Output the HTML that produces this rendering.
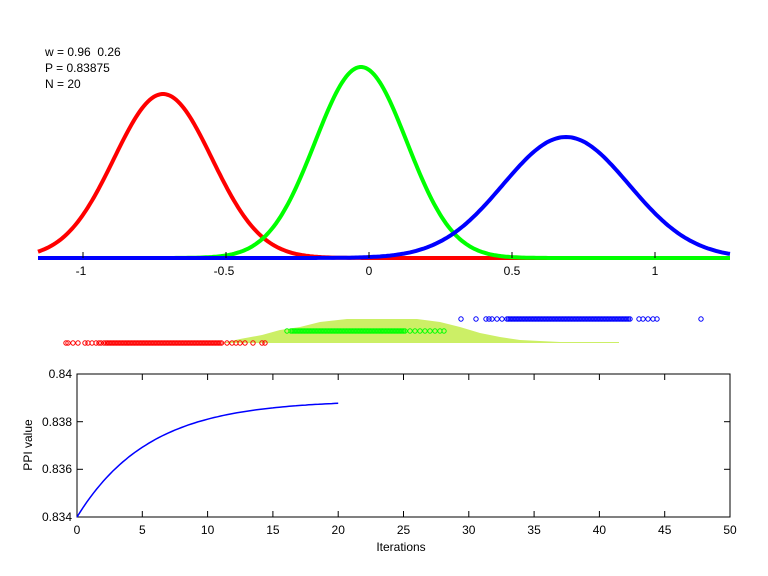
<!DOCTYPE html>
<html><head><meta charset="utf-8"><style>
html,body{margin:0;padding:0;background:#fff}
svg{display:block;font-family:"Liberation Sans",sans-serif}
</style></head><body>
<svg id="s" width="768" height="576" viewBox="0 0 768 576" xmlns="http://www.w3.org/2000/svg">
<rect width="768" height="576" fill="#fff"/>
<g font-size="12" fill="#000">
<text x="45" y="56" xml:space="preserve" style="white-space:pre">w = 0.96  0.26</text>
<text x="45" y="72">P = 0.83875</text>
<text x="45" y="88">N = 20</text>
</g>
<g id="top"></g>
<g stroke="#000" stroke-width="1">
<line x1="83" y1="258" x2="83" y2="252"/><line x1="226" y1="258" x2="226" y2="252"/><line x1="369" y1="258" x2="369" y2="252"/><line x1="512" y1="258" x2="512" y2="252"/><line x1="655" y1="258" x2="655" y2="252"/>
</g>
<g font-size="12" text-anchor="middle">
<text x="81" y="275">-1</text><text x="224" y="275">-0.5</text><text x="369" y="275">0</text><text x="512" y="275">0.5</text><text x="655" y="275">1</text>
</g>
<polygon fill="#ccef66" points="222,343 240,339 262,335 280,330 300,327 320,322 347,319 417,319 440,322 460,327 480,333 500,337 520,340 560,342 619,342 619,343"/>
<g id="mid" fill="none" stroke-width="1"></g>
<rect x="77" y="374" width="653" height="143" fill="none" stroke="#000"/>
<g id="bt" stroke="#000"></g>
<g font-size="12" text-anchor="end">
<text x="72" y="378">0.84</text><text x="72" y="426">0.838</text><text x="72" y="473">0.836</text><text x="72" y="521">0.834</text>
</g>
<g id="bx" font-size="12" text-anchor="middle"></g>
<text x="401" y="551" font-size="12" text-anchor="middle">Iterations</text>
<text x="0" y="0" font-size="12" text-anchor="middle" transform="translate(32,445) rotate(-90)">PPI value</text>
<path id="ppi" fill="none" stroke="#0000ff" stroke-width="1.5"/>
</svg>
<script>
var NS="http://www.w3.org/2000/svg";
function g(mu,s,h,col){var d="";for(var x=38;x<=730;x+=2){var y=258-h*Math.exp(-Math.pow(x-mu,2)/(2*s*s));d+=(x==38?"M":"L")+x+","+y.toFixed(1);}
var p=document.createElementNS(NS,"path");p.setAttribute("d",d);p.setAttribute("fill","none");p.setAttribute("stroke",col);p.setAttribute("stroke-width","4");document.getElementById("top").appendChild(p);}
g(163,49,164,"#ff0000");g(361,46,191,"#00ff00");g(566,63,121,"#0000ff");
var mid=document.getElementById("mid");
function c(x,y,col){var e=document.createElementNS(NS,"circle");e.setAttribute("cx",x);e.setAttribute("cy",y);e.setAttribute("r",2.2);e.setAttribute("stroke",col);mid.appendChild(e);}
var r=[66,68,73,78,85,88,92,96,99,101,104,227,232,236,240,245,253,262,265];
r.forEach(function(x){c(x,343,"#ff0000")});for(var x=106;x<=222;x+=1.5)c(x,343,"#ff0000");
[287,410,415,420,425,430,435,440,444].forEach(function(x){c(x,331,"#00ff00")});for(var x=291;x<=405;x+=1.5)c(x,331,"#00ff00");
[461,476,486,489,492,497,502,639,643,648,653,657,701].forEach(function(x){c(x,319,"#0000ff")});for(var x=507;x<=630;x+=1.5)c(x,319,"#0000ff");
var bt=document.getElementById("bt"),bx=document.getElementById("bx");
for(var i=0;i<=10;i++){var x=77+i*65.3;var l=document.createElementNS(NS,"line");l.setAttribute("x1",x);l.setAttribute("x2",x);l.setAttribute("y1",517);l.setAttribute("y2",511);bt.appendChild(l);
var l2=document.createElementNS(NS,"line");l2.setAttribute("x1",x);l2.setAttribute("x2",x);l2.setAttribute("y1",374);l2.setAttribute("y2",380);bt.appendChild(l2);
var t=document.createElementNS(NS,"text");t.setAttribute("x",x);t.setAttribute("y",534);t.textContent=i*5;bx.appendChild(t);}
[374,421.7,469.3].forEach(function(y){[[77,83],[730,724]].forEach(function(a){var l=document.createElementNS(NS,"line");l.setAttribute("x1",a[0]);l.setAttribute("x2",a[1]);l.setAttribute("y1",y);l.setAttribute("y2",y);bt.appendChild(l);});});
var d="";for(var t=0;t<=20;t+=0.25){var v=0.8389-0.0049*Math.exp(-t/5.5);var x=77+t*13.06,y=517-(v-0.834)/0.006*143;d+=(t==0?"M":"L")+x.toFixed(1)+","+y.toFixed(1);}
document.getElementById("ppi").setAttribute("d",d);
</script>
</body></html>
